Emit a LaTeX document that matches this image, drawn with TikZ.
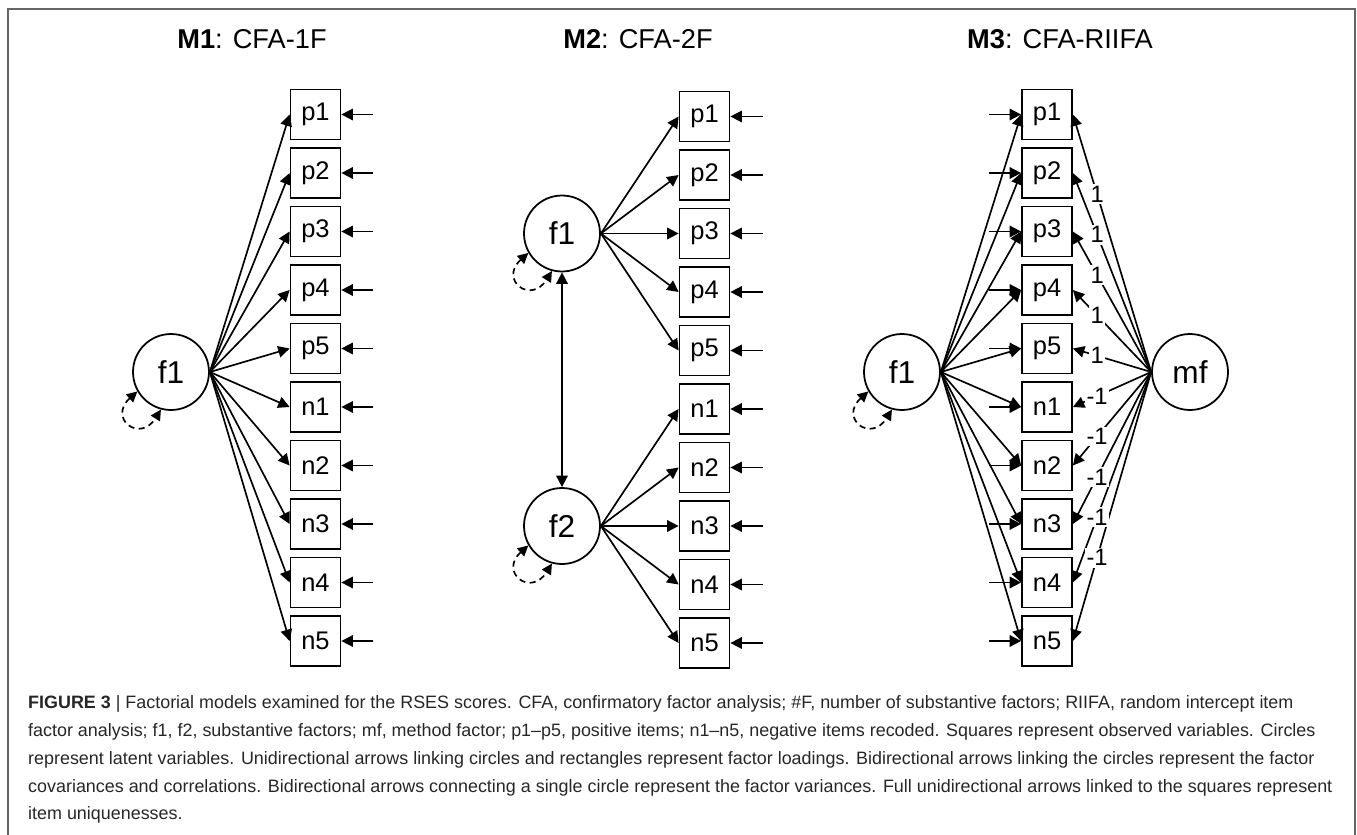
\documentclass[tikz,border=0pt]{standalone}
\usepackage{fontspec}
\setmainfont{Liberation Sans}
\usetikzlibrary{arrows.meta}

\tikzset{
  item/.style={draw, line width=1pt, minimum width=1cm, minimum height=1cm,
    inner sep=0pt, font=\fontsize{14.5}{16}\selectfont},
  latent/.style={draw, circle, line width=1pt, minimum size=1.52cm,
    inner sep=0pt, font=\fontsize{18}{20}\selectfont},
  load/.style={line width=0.95pt, -{Triangle[length=6.5pt,width=6.5pt]}},
  covar/.style={line width=0.95pt,
    {Triangle[length=6.5pt,width=6.5pt]}-{Triangle[length=6.5pt,width=6.5pt]}},
  varloop/.style={line width=0.95pt, dash pattern=on 3.5pt off 2.5pt,
    {Triangle[length=6pt,width=6pt]}-{Triangle[length=6pt,width=6pt]}},
  wlabel/.style={fill=white, inner sep=1pt, font=\fontsize{13.5}{15}\selectfont},
  modeltitle/.style={font=\fontsize{15.5}{18}\selectfont},
}

\begin{document}
\begin{tikzpicture}[x=0.02cm, y=0.02cm]
  \useasboundingbox (0,0) rectangle (1357,-835);
  % Outer frame (open at the bottom)
  \draw[line width=1pt, black!60] (8,-835) -- (8,-9) -- (1355,-9) -- (1355,-835);

  % Titles
  \node[modeltitle] (t1) at (252,-39)  {\textbf{M1}: CFA-1F};
  \node[modeltitle] (t2) at (638,-39)  {\textbf{M2}: CFA-2F};
  \node[modeltitle] (t3) at (1060,-39) {\textbf{M3}: CFA-RIIFA};

  % M1: one factor
  \node[latent] (a_f1) at (171,-372) {f1};
  \foreach \v [count=\i] in {p1,p2,p3,p4,p5,n1,n2,n3,n4,n5} {
    \node[item] (a_\v) at (315.5,{-114.5-58.5*(\i-1)}) {\v};
    \coordinate (a_e\v) at (373,{-114.5-58.5*(\i-1)});
    \draw[load] (a_f1.east) -- (a_\v.west);
    \draw[load] (a_e\v) -- (a_\v.east);
  }
  \draw[varloop] (a_f1.210) .. controls +(222:0.8cm) and +(238:0.8cm) .. (a_f1.255);

  % M2: two correlated factors
  \node[latent] (b_f1) at (562,-233.5) {f1};
  \node[latent] (b_f2) at (562,-526)   {f2};
  \foreach \v [count=\i] in {p1,p2,p3,p4,p5,n1,n2,n3,n4,n5} {
    \node[item] (b_\v) at (704.5,{-116.5-58.5*(\i-1)}) {\v};
    \coordinate (b_e\v) at (763,{-116.5-58.5*(\i-1)});
    \draw[load] (b_e\v) -- (b_\v.east);
  }
  \foreach \v in {p1,p2,p3,p4,p5} \draw[load] (b_f1.east) -- (b_\v.west);
  \foreach \v in {n1,n2,n3,n4,n5} \draw[load] (b_f2.east) -- (b_\v.west);
  \draw[covar] (b_f1.south) -- (b_f2.north);
  \draw[varloop] (b_f1.210) .. controls +(222:0.8cm) and +(238:0.8cm) .. (b_f1.255);
  \draw[varloop] (b_f2.210) .. controls +(222:0.8cm) and +(238:0.8cm) .. (b_f2.255);

  % M3: factor plus random intercept method factor
  \node[latent] (c_f1) at (902,-372)  {f1};
  \node[latent] (c_mf) at (1190,-372) {mf};
  \foreach \v [count=\i] in {p1,p2,p3,p4,p5,n1,n2,n3,n4,n5} {
    \node[item] (c_\v) at (1047,{-114.5-58.5*(\i-1)}) {\v};
    \coordinate (c_e\v) at (989,{-114.5-58.5*(\i-1)});
    \draw[load] (c_e\v) -- (c_\v.west);
    \draw[load] (c_f1.east) -- (c_\v.west);
    \draw[load] (c_mf.west) -- (c_\v.east);
  }
  \draw[varloop] (c_f1.210) .. controls +(222:0.8cm) and +(238:0.8cm) .. (c_f1.255);
  % fixed loadings of the method factor
  \foreach \v/\w in {p1/1,p2/1,p3/1,p4/1,p5/1,n1/-1,n2/-1,n3/-1,n4/-1,n5/-1}
    \path (c_mf.west) -- (c_\v.east) node[wlabel, pos=0.69] {\w};

  % Caption
  \node[anchor=north west, align=left, text=black!85,
    font=\fontsize{10.2}{15.9}\selectfont] (caption) at (22,-689) {%
    \textbf{FIGURE 3} | Factorial models examined for the RSES scores. CFA, confirmatory factor analysis; \#F, number of substantive factors; RIIFA, random intercept item\\
    factor analysis; f1, f2, substantive factors; mf, method factor; p1--p5, positive items; n1--n5, negative items recoded. Squares represent observed variables. Circles\\
    represent latent variables. Unidirectional arrows linking circles and rectangles represent factor loadings. Bidirectional arrows linking the circles represent the factor\\
    covariances and correlations. Bidirectional arrows connecting a single circle represent the factor variances. Full unidirectional arrows linked to the squares represent\\
    item uniquenesses.};
\end{tikzpicture}
\end{document}
